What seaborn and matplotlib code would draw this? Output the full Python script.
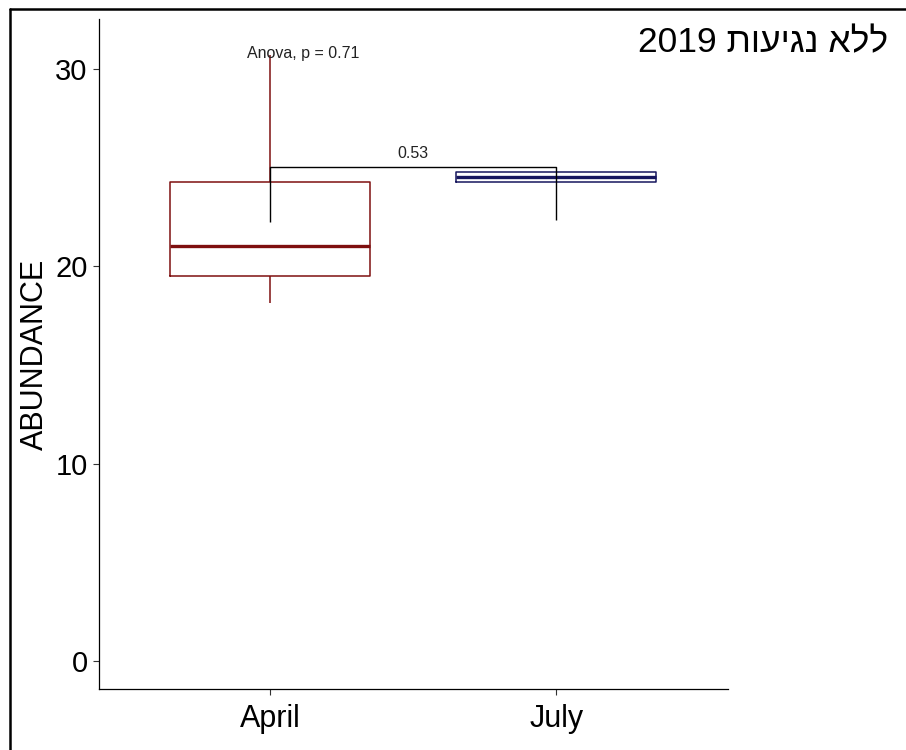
import numpy as np
import pandas as pd
import matplotlib
matplotlib.use("Agg")
import matplotlib.pyplot as plt
from matplotlib.lines import Line2D
import seaborn as sns

# Five-number summaries (min, Q1, median, Q3, max) of abundance per month
groups = ["April", "July"]
april_summary = [18.14, 19.51, 21.03, 24.28, 30.71]
july_summary = [24.28, 24.28, 24.53, 24.78, 24.78]
group_colors = {"April": "#7E0F0F", "July": "#16165E"}

y_ticks = [0, 10, 20, 30]
y_label = "ABUNDANCE"

# Pairwise comparison bracket and test labels
bracket_y = 25.04
bracket_tips = [22.25, 22.35]
pair_p_label = "0.53"
anova_label = "Anova, p = 0.71"
anova_y = 30.8

title_he = "ללא נגיעות"
title_year = "2019"

sns.set_theme(style="white")
plt.rcParams["font.family"] = ["Liberation Sans", "DejaVu Sans"]

df = pd.DataFrame({
    "month": ["April"] * len(april_summary) + ["July"] * len(july_summary),
    "abundance": april_summary + july_summary,
})

fig = plt.figure(figsize=(9.06, 7.5), dpi=100)
ax = fig.add_axes([98.7 / 906, 1 - 689 / 750, (728 - 98.7) / 906, (689 - 19) / 750])

sns.boxplot(
    data=df, x="month", y="abundance", hue="month", order=groups,
    palette=group_colors, fill=False, width=0.7, whis=(0, 100),
    showcaps=False, showfliers=False, legend=False, linewidth=1.1,
    medianprops={"linewidth": 2.4}, ax=ax,
)

# comparison bracket between the two months
ax.plot([0, 0, 1, 1], [bracket_tips[0], bracket_y, bracket_y, bracket_tips[1]],
        color="black", lw=1.0, zorder=5, solid_capstyle="butt")
ax.text(0.5, bracket_y + 0.3, pair_p_label, ha="center", va="bottom",
        fontsize=11.5, color="#222222")
ax.text(-0.08, anova_y, anova_label, ha="left", va="center",
        fontsize=11.5, color="#222222")

ax.set_xlim(-0.6, 1.6)
ax.set_ylim(-1.42, 32.54)
ax.set_yticks(y_ticks)
ax.set_xlabel("")
ax.set_ylabel(y_label, fontsize=22, color="black")
ax.yaxis.set_label_coords(-0.078, 0.5)

for side in ["top", "right"]:
    ax.spines[side].set_visible(False)
for side in ["left", "bottom"]:
    ax.spines[side].set_color("black")
    ax.spines[side].set_linewidth(0.9)
ax.tick_params(axis="both", which="major", length=4, width=0.8,
               color="#333333", labelcolor="black", labelsize=21,
               left=True, bottom=True)
ax.tick_params(axis="x", labelsize=22, pad=7)
ax.tick_params(axis="y", pad=4)

# Hebrew title laid out right-to-left
fig.text(888 / 906, 1 - 43 / 750, title_year + " " + title_he[::-1],
         ha="right", va="center", fontsize=25.5, color="black")

# frame lines along the top and left of the figure
fig.add_artist(Line2D([10 / 906, 1.0], [1 - 8.5 / 750, 1 - 8.5 / 750],
                      transform=fig.transFigure, color="black", lw=1.8))
fig.add_artist(Line2D([10 / 906, 10 / 906], [0.0, 1 - 8.5 / 750],
                      transform=fig.transFigure, color="black", lw=1.8))

fig.savefig("out.png", dpi=100)
